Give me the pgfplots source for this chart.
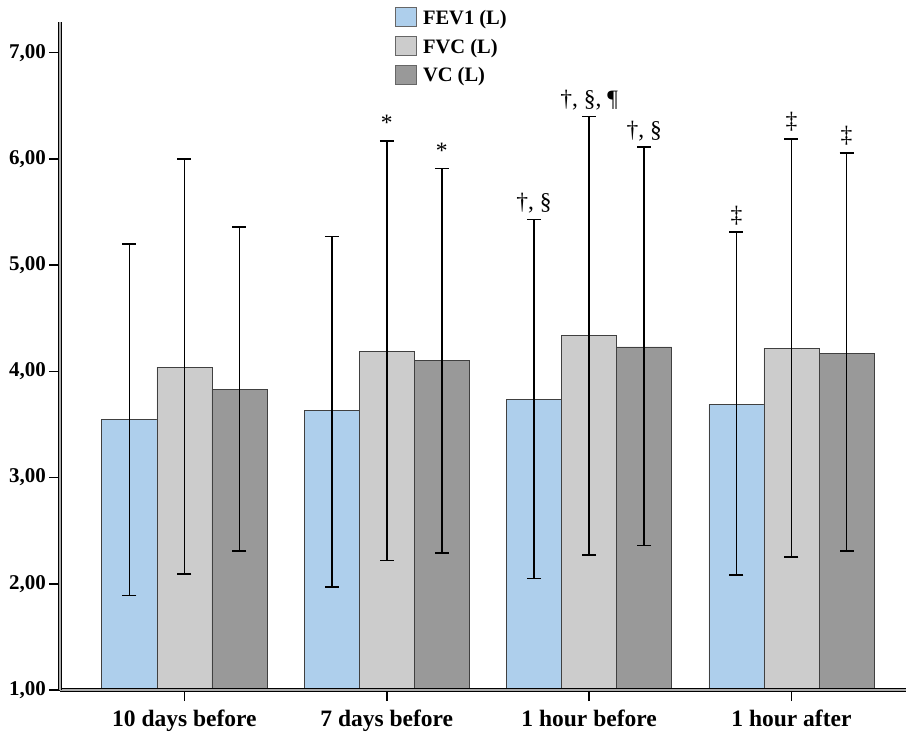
\documentclass[border=0pt]{standalone}
\usepackage{pgfplots}
\pgfplotsset{compat=1.18}
\usepackage{pgfplotstable}
\usepackage{fontspec}
\setmainfont{Liberation Serif}
\definecolor{fevc}{RGB}{174,207,236}
\definecolor{fvcc}{RGB}{204,204,204}
\definecolor{vcc}{RGB}{153,153,153}
\tikzset{anno/.style={anchor=base, yshift=10pt, font=\fontsize{23.5}{23.5}\selectfont}}

\pgfplotstableread{
x y ep em
0 3.55 1.65 1.66
1 3.63 1.64 1.66
2 3.74 1.69 1.69
3 3.69 1.62 1.61
}\fevone
\pgfplotstableread{
x y ep em
0 4.04 1.96 1.95
1 4.19 1.98 1.97
2 4.34 2.06 2.07
3 4.22 1.97 1.97
}\fvc
\pgfplotstableread{
x y ep em
0 3.83 1.53 1.52
1 4.10 1.81 1.81
2 4.23 1.88 1.87
3 4.17 1.89 1.86
}\vc

\begin{document}
\begin{tikzpicture}
\begin{axis}[
  name=ax, axis on top,
  scale only axis, width=846pt, height=668pt,
  xmin=-0.615, xmax=3.566, ymin=1, ymax=7.29,
  ybar=0pt, bar width=0.272,
  axis x line=bottom, axis y line=left,
  axis line style={-, draw=black, line width=1.1pt, double=gray!65, double distance=2.2pt},
  xtick={0,1,2,3},
  xticklabels={10 days before, 7 days before, 1 hour before, 1 hour after},
  ytick={1,2,...,7},
  xtick align=outside, ytick align=outside, major tick length=11pt,
  xtick style={draw=black, line width=1.5pt},
  ytick style={draw=black, line width=1.4pt},
  tick label style={font=\bfseries\fontsize{21}{21}\selectfont, inner sep=1pt},
  yticklabel style={xshift=-2pt, /pgf/number format/.cd, fixed, fixed zerofill, precision=2, use comma, assume math mode=true},
  xticklabel style={yshift=-8pt, font=\bfseries\fontsize{23.5}{23.5}\selectfont},
  legend style={at={(0.396,1.022)}, anchor=north west, draw=none, fill=none,
    inner sep=0pt, row sep=9pt, column sep=5pt,
    font=\bfseries\fontsize{20.5}{20.5}\selectfont,
    nodes={inner sep=1pt}},
  legend cell align=left,
  error bars/error bar style={black, line width=1.8pt},
  error bars/error mark options={black, rotate=90, mark size=7pt, line width=1.8pt},
]
\addplot[fill=fevc, draw=black!75, line width=0.8pt,
  legend image code/.code={\draw[fill=fevc, draw=black!60, line width=0.8pt] (0pt,-9pt) rectangle (21pt,10pt);},
  error bars/.cd, y dir=both, y explicit]
  table[x=x, y=y, y error plus=ep, y error minus=em] {\fevone};
\addplot[fill=fvcc, draw=black!75, line width=0.8pt,
  legend image code/.code={\draw[fill=fvcc, draw=black!60, line width=0.8pt] (0pt,-9pt) rectangle (21pt,10pt);},
  error bars/.cd, y dir=both, y explicit]
  table[x=x, y=y, y error plus=ep, y error minus=em] {\fvc};
\addplot[fill=vcc, draw=black!75, line width=0.8pt,
  legend image code/.code={\draw[fill=vcc, draw=black!60, line width=0.8pt] (0pt,-9pt) rectangle (21pt,10pt);},
  error bars/.cd, y dir=both, y explicit]
  table[x=x, y=y, y error plus=ep, y error minus=em] {\vc};
\legend{FEV1 (L), FVC (L), VC (L)}
\node[anno] at (axis cs:1,6.17) {*};
\node[anno] at (axis cs:1.272,5.91) {*};
\node[anno] at (axis cs:1.728,5.43) {†, §};
\node[anno] at (axis cs:2,6.40) {†, §, ¶};
\node[anno] at (axis cs:2.272,6.11) {†, §};
\node[anno] at (axis cs:2.728,5.31) {‡};
\node[anno] at (axis cs:3,6.19) {‡};
\node[anno] at (axis cs:3.272,6.06) {‡};
\end{axis}
\pgfresetboundingbox
\path[use as bounding box] ([xshift=-60pt,yshift=-48pt]ax.south west) rectangle ([yshift=22pt]ax.north east);
\end{tikzpicture}
\end{document}
